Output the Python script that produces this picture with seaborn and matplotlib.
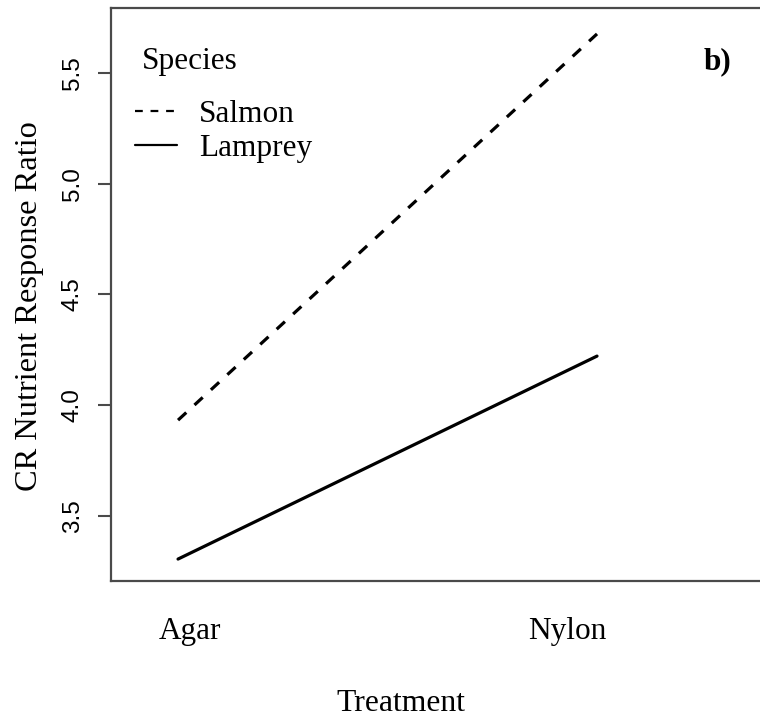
import matplotlib
matplotlib.use("Agg")
import matplotlib.pyplot as plt
import matplotlib.transforms as mtransforms
import seaborn as sns
import pandas as pd

# Interaction means: treatment x species
treatments = ["Agar", "Nylon"]
species = ["Salmon", "Lamprey"]
salmon_means = [3.933, 5.676]
lamprey_means = [3.306, 4.222]
y_ticks = [3.5, 4.0, 4.5, 5.0, 5.5]

df = pd.DataFrame({
    "Treatment": treatments * 2,
    "Species": [species[0]] * 2 + [species[1]] * 2,
    "Ratio": salmon_means + lamprey_means,
})

sns.set_style("white")
plt.rcParams["text.color"] = "black"
plt.rcParams["axes.labelcolor"] = "black"
serif = "Liberation Serif"
sans = "Liberation Sans"

fig = plt.figure(figsize=(7.6, 7.17), dpi=100)
ax = fig.add_axes([111 / 760, 136 / 717, 649 / 760, 573 / 717])

sns.lineplot(
    data=df, x="Treatment", y="Ratio", style="Species",
    style_order=species, dashes={"Salmon": (3.5, 3.5), "Lamprey": ""},
    color="black", lw=2.3, ax=ax, legend=True, sort=False,
)

ax.set_xlim(-0.160, 1.389)
ax.set_ylim(3.207, 5.793)

# frame: left, top and bottom only
for side in ["left", "top", "bottom"]:
    ax.spines[side].set_color("#4a4a4a")
    ax.spines[side].set_linewidth(1.6)
ax.spines["right"].set_visible(False)

ax.set_yticks(y_ticks)
ax.set_yticklabels([f"{v:.1f}" for v in y_ticks], rotation=90, va="center",
                   family=sans, fontsize=17.5, color="black")
ax.tick_params(axis="y", length=9.5, width=1.5, color="#4a4a4a", pad=10, left=True)
ax.set_xticks([])

# treatment labels under the axis
trans = mtransforms.blended_transform_factory(ax.transData, ax.transAxes)
for xpos, name in zip([0.029, 0.928], treatments):
    ax.text(xpos, -0.089, name, transform=trans, ha="center", va="center",
            family=serif, fontsize=22.5, color="black")

ax.set_xlabel("Treatment", family=serif, fontsize=22.8, color="black")
ax.xaxis.set_label_coords(0.447, -0.213)
ax.xaxis.label.set_va("center")
ax.set_ylabel("CR Nutrient Response Ratio", family=serif, fontsize=23.3,
              color="black")
ax.yaxis.set_label_coords(-0.125, 0.48)
ax.yaxis.label.set_va("center")

# legend
handles, labels = ax.get_legend_handles_labels()
pairs = [(h, l) for h, l in zip(handles, labels) if l in species]
leg = ax.legend([p[0] for p in pairs], [p[1] for p in pairs],
                loc="upper left", bbox_to_anchor=(0.037, 0.840),
                frameon=False, borderpad=0, borderaxespad=0,
                handlelength=1.35, handletextpad=0.7, labelspacing=0.17,
                prop={"family": serif, "size": 22.5})
for line in leg.get_lines():
    line.set_linewidth(1.6)
for t in leg.get_texts():
    t.set_color("black")
ax.text(0.048, 0.907, "Species", transform=ax.transAxes, ha="left",
        va="center", family=serif, fontsize=22.5, color="black")

ax.text(0.935, 0.907, "b)", transform=ax.transAxes, ha="center",
        va="center", family=serif, fontsize=22.5, fontweight="bold",
        color="black")

fig.savefig("out.png", dpi=100)
